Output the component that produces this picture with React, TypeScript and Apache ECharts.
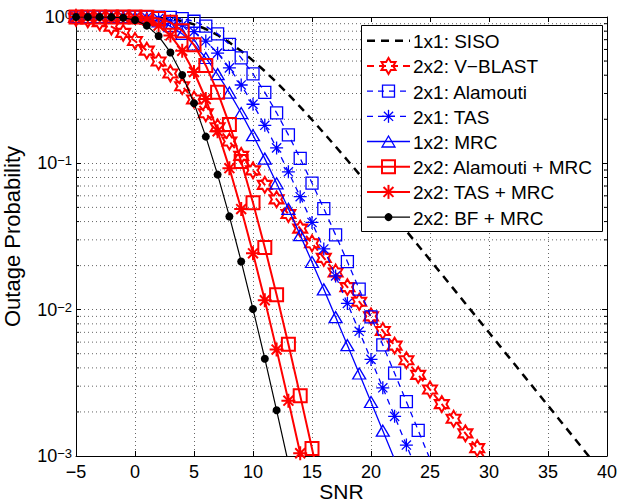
import React, { useEffect, useRef } from 'react';
import * as echarts from 'echarts';

// ---------------- data ----------------
const SNR = [-5, -4, -3, -2, -1, 0, 1, 2, 3, 4, 5, 6, 7, 8, 9, 10, 11, 12, 13, 14, 15, 16, 17, 18, 19, 20,
  21, 22, 23, 24, 25, 26, 27, 28, 29, 30, 31, 32, 33, 34, 35, 36, 37, 38, 39, 40];

const X_TICKS = [-5, 0, 5, 10, 15, 20, 25, 30, 35, 40];
const Y_TICKS = [0.001, 0.01, 0.1, 1];

const siso = [1, 1, 1, 0.99998, 0.99985, 0.99909, 0.99616, 0.98794, 0.97005, 0.93837, 0.89069, 0.82767,
  0.75258, 0.67024, 0.58573, 0.50341, 0.42653, 0.35702, 0.29588, 0.2432, 0.19858, 0.16124, 0.13036,
  0.10501, 0.084355, 0.067606, 0.054085, 0.043206, 0.034474, 0.027482, 0.021893, 0.017429, 0.01387,
  0.011033, 0.0087738, 0.0069756, 0.0055449, 0.004407, 0.003502, 0.0027828, 0.0022112, 0.0017568,
  0.0013957, 0.0011088, 0.00088086, 0.00069976];

const vblast = [0.98702, 0.96455, 0.92294, 0.86003, 0.77879, 0.68593, 0.58954, 0.49642, 0.41126, 0.33661,
  0.27295, 0.21989, 0.17629, 0.14093, 0.11242, 0.08955, 0.07127, 0.05667, 0.04505, 0.0358, 0.02845,
  0.022599, 0.017953, 0.014262, 0.011329, 0.009, 0.007149, 0.0056786, 0.0045106, 0.003583, 0.002846,
  0.0022607, 0.0017957, 0.0014264, 0.001133, 0.0009];

const alamouti21 = [1, 1, 1, 1, 1, 0.99999, 0.99982, 0.99857, 0.99281, 0.97505, 0.93519, 0.86586, 0.76778,
  0.64999, 0.52595, 0.40817, 0.30539, 0.22143, 0.15638, 0.10808, 0.07334, 0.04907, 0.03243, 0.02127,
  0.013822, 0.0089315, 0.0057441, 0.0036793, 0.0023494, 0.0014966, 0.0009511];

const tas21 = [1, 1, 1, 0.99997, 0.9997, 0.99818, 0.99233, 0.97603, 0.941, 0.88054, 0.79333, 0.68504,
  0.56638, 0.44922, 0.34308, 0.25342, 0.18193, 0.12746, 0.087545, 0.059146, 0.039434, 0.025998,
  0.016994, 0.011027, 0.0071158, 0.0045706, 0.0029252, 0.0018668, 0.0011885, 0.00075526];

const mrc12 = [1, 1, 0.99999, 0.99982, 0.99854, 0.9927, 0.97478, 0.93464, 0.86498, 0.76662, 0.64872,
  0.52466, 0.40701, 0.3044, 0.22065, 0.1558, 0.10767, 0.07303, 0.048874, 0.032317, 0.021168, 0.013765,
  0.008893, 0.005718, 0.003662, 0.002339, 0.0014898, 0.0009472];

const alamoutiMrc = [1, 1, 1, 1, 0.99997, 0.99953, 0.9955, 0.97618, 0.91912, 0.80661, 0.64547, 0.46697,
  0.30654, 0.18436, 0.10284, 0.05372, 0.02664, 0.012652, 0.005799, 0.0025849, 0.001126, 0.00048164];

const tasMrc = [1, 1, 0.99998, 0.99964, 0.99708, 0.98545, 0.95019, 0.87355, 0.74819, 0.58771, 0.42084,
  0.27527, 0.16566, 0.092659, 0.048686, 0.024274, 0.011593, 0.0053334, 0.0023887, 0.0010444, 0.00044808];

const bfMrc = [1, 1, 0.9998, 0.9981, 0.98816, 0.95351, 0.87344, 0.74066, 0.5724, 0.40191, 0.25771,
  0.15225, 0.083741, 0.043376, 0.021366, 0.0101, 0.004624, 0.0020529, 0.00089259];

// ---------------- styling ----------------
const RED = '#ff0000';
const BLUE = '#0000ff';
const BLACK = '#000000';
const FONT = '"Liberation Sans", Arial, Helvetica, sans-serif';

const HEX_PTS: number[][] = [[0, -1], [-0.2887, -0.5], [-0.866, -0.5], [-0.5774, 0], [-0.866, 0.5],
  [-0.2887, 0.5], [0, 1], [0.2887, 0.5], [0.866, 0.5], [0.5774, 0], [0.866, -0.5], [0.2887, -0.5]];
const HEX = 'path://M' + HEX_PTS.map((p) => p.join(',')).join('L') + 'Z';
const SQ = 'path://M-1,-1L1,-1L1,1L-1,1Z';
const AST = 'path://M0,-1L0,1M-1,0L1,0M-0.7071,-0.7071L0.7071,0.7071M-0.7071,0.7071L0.7071,-0.7071';
const TRI = 'path://M0,-1L1,1L-1,1Z';

type Spec = {
  name: string; values: number[]; color: string; width: number; dash: number[] | null;
  marker: 'none' | 'hex' | 'sq' | 'ast' | 'tri' | 'dot'; size: number[]; mw: number;
};

const SPECS: Spec[] = [
  { name: '1x1: SISO', values: siso, color: BLACK, width: 2.5, dash: [8, 6], marker: 'none', size: [0, 0], mw: 0 },
  { name: '2x2: V\u2212BLAST', values: vblast, color: RED, width: 2, dash: [7, 5], marker: 'hex', size: [14, 16], mw: 2 },
  { name: '2x1: Alamouti', values: alamouti21, color: BLUE, width: 1.3, dash: [6, 5], marker: 'sq', size: [12, 12], mw: 1.3 },
  { name: '2x1: TAS', values: tas21, color: BLUE, width: 1.3, dash: [6, 5], marker: 'ast', size: [13, 13], mw: 1.3 },
  { name: '1x2: MRC', values: mrc12, color: BLUE, width: 1.3, dash: null, marker: 'tri', size: [13, 11], mw: 1.3 },
  { name: '2x2: Alamouti + MRC', values: alamoutiMrc, color: RED, width: 2, dash: null, marker: 'sq', size: [13, 13], mw: 2 },
  { name: '2x2: TAS + MRC', values: tasMrc, color: RED, width: 2, dash: null, marker: 'ast', size: [14, 14], mw: 2 },
  { name: '2x2: BF + MRC', values: bfMrc, color: BLACK, width: 1.2, dash: null, marker: 'dot', size: [8, 8], mw: 0 },
];

const SYMBOL: Record<string, string> = { none: 'none', hex: HEX, sq: SQ, ast: AST, tri: TRI, dot: 'circle' };

const X_MIN = -5;
const X_MAX = 40;
const GRID_COLOR = '#666666';

function markerGraphic(s: Spec, cx: number, cy: number): any[] {
  const w = s.size[0] / 2;
  const h = s.size[1] / 2;
  const st = { stroke: s.color, lineWidth: s.mw, fill: 'none' };
  switch (s.marker) {
    case 'hex':
      return [{ type: 'polygon', shape: { points: HEX_PTS.map((p) => [cx + p[0] * w / 0.866, cy + p[1] * h]) }, style: st, z: 101 }];
    case 'sq':
      return [{ type: 'rect', shape: { x: cx - w, y: cy - h, width: 2 * w, height: 2 * h }, style: st, z: 101 }];
    case 'tri':
      return [{ type: 'polygon', shape: { points: [[cx, cy - h], [cx + w, cy + h], [cx - w, cy + h]] }, style: st, z: 101 }];
    case 'ast': {
      const segs = [[0, -1, 0, 1], [-1, 0, 1, 0], [-0.7071, -0.7071, 0.7071, 0.7071], [-0.7071, 0.7071, 0.7071, -0.7071]];
      return segs.map((g) => ({ type: 'line', shape: { x1: cx + g[0] * w, y1: cy + g[1] * h, x2: cx + g[2] * w, y2: cy + g[3] * h }, style: { stroke: s.color, lineWidth: s.mw }, z: 101 }));
    }
    case 'dot':
      return [{ type: 'circle', shape: { cx, cy, r: w }, style: { fill: s.color }, z: 101 }];
    default:
      return [];
  }
}

function buildLegend(): any[] {
  const box = { x: 361, y: 25, w: 241, h: 206 };
  const row0 = 40.7;
  const dy = 25.2;
  const els: any[] = [{
    type: 'rect', shape: { x: box.x + 0.5, y: box.y + 0.5, width: box.w, height: box.h },
    style: { fill: '#ffffff', stroke: '#000', lineWidth: 1 }, z: 100,
  }];
  SPECS.forEach((s, i) => {
    const cy = row0 + dy * i;
    els.push({
      type: 'line', shape: { x1: 367, y1: cy, x2: 410, y2: cy },
      style: { stroke: s.color, lineWidth: s.width, lineDash: s.dash || undefined }, z: 101,
    });
    els.push(...markerGraphic(s, 388.5, cy));
    els.push({
      type: 'text', x: 413, y: cy + 1,
      style: { text: s.name, font: `19px ${FONT}`, fill: '#000', align: 'left', verticalAlign: 'middle' }, z: 102,
    });
  });
  return els;
}

const minorVals: number[] = [];
[0.001, 0.01, 0.1].forEach((d) => { for (let m = 2; m <= 9; m++) minorVals.push(Number((m * d).toPrecision(3))); });

function fmtX(v: number) { return v < 0 ? '\u2212' + (-v) : String(v); }
function fmtY(v: number) {
  const e = Math.round(Math.log10(v));
  return `{b|10}{s|${e === 0 ? '0' : '\u2212' + (-e)}}`;
}

export default function App() {
  const ref = useRef<HTMLDivElement>(null);
  useEffect(() => {
    document.body.style.margin = '0';
    if (!ref.current) return;
    const chart = echarts.init(ref.current, undefined, { renderer: 'svg' });
    const lineSeries = SPECS.map((s, i) => ({
      type: 'line',
      name: s.name,
      data: s.values.map((v, k) => [SNR[k], v]),
      xAxisIndex: 0,
      yAxisIndex: 0,
      showSymbol: s.marker !== 'none',
      symbol: SYMBOL[s.marker],
      symbolSize: s.size,
      lineStyle: { color: s.color, width: s.width, type: s.dash || 'solid' },
      itemStyle: {
        color: s.marker === 'dot' ? s.color : 'none',
        borderColor: s.color,
        borderWidth: s.mw,
      },
      clip: true,
      silent: true,
      z: 3 + i,
    }));
    const option: any = {
      animation: false,
      backgroundColor: '#ffffff',
      grid: { left: 76, right: 11, top: 17, bottom: 48, containLabel: false, outerBoundsMode: 'none' },
      xAxis: [
        {
          type: 'value', min: X_MIN, max: X_MAX, interval: 5,
          name: 'SNR', nameLocation: 'middle', nameGap: 25, nameMoveOverlap: false,
          nameTextStyle: { fontSize: 21, fontFamily: FONT, color: '#000', verticalAlign: 'top', lineHeight: 21 },
          axisLine: { show: true, onZero: false, lineStyle: { color: '#000', width: 1 } },
          axisTick: { show: true, inside: true, length: 5, lineStyle: { color: '#000' } },
          axisLabel: { margin: 7, fontSize: 18, fontFamily: FONT, color: '#000', formatter: fmtX, customValues: X_TICKS },
          splitLine: { show: true, lineStyle: { color: GRID_COLOR, width: 1, type: [1, 3] } },
        },
        {
          type: 'value', position: 'top', min: X_MIN, max: X_MAX, interval: 5,
          axisLine: { show: true, onZero: false, lineStyle: { color: '#000', width: 1 } },
          axisTick: { show: true, inside: true, length: 5, lineStyle: { color: '#000' } },
          axisLabel: { show: false },
          splitLine: { show: false },
        },
      ],
      yAxis: [
        {
          type: 'log', logBase: 10, min: Y_TICKS[0], max: Y_TICKS[Y_TICKS.length - 1],
          name: 'Outage Probability', nameLocation: 'middle', nameGap: 53, nameMoveOverlap: false,
          nameTextStyle: { fontSize: 22, fontFamily: FONT, color: '#000' },
          axisLine: { show: true, onZero: false, lineStyle: { color: '#000', width: 1 } },
          axisTick: { show: true, inside: true, length: 5, lineStyle: { color: '#000' } },
          axisLabel: {
            margin: 4, formatter: fmtY,
            rich: {
              b: { fontSize: 18, fontFamily: FONT, color: '#000', lineHeight: 18, padding: [6, 0, 0, 0], verticalAlign: 'bottom' },
              s: { fontSize: 13, fontFamily: FONT, color: '#000', lineHeight: 13, verticalAlign: 'top' },
            },
          },
          splitLine: { show: true, lineStyle: { color: GRID_COLOR, width: 1, type: [1, 3] } },
        },
        {
          type: 'log', logBase: 10, position: 'right', min: Y_TICKS[0], max: Y_TICKS[Y_TICKS.length - 1],
          axisLine: { show: true, onZero: false, lineStyle: { color: '#000', width: 1 } },
          axisTick: { show: true, inside: true, length: 5, lineStyle: { color: '#000' } },
          axisLabel: { show: false },
          splitLine: { show: false },
        },
      ],
      series: [
        {
          type: 'custom',
          name: 'minor-grid',
          xAxisIndex: 0,
          yAxisIndex: 0,
          silent: true,
          z: 1,
          data: minorVals.map((v) => [X_MIN, v]),
          renderItem: (_p: any, api: any) => {
            const y = api.value(1);
            const a = api.coord([X_MIN, y]);
            const b = api.coord([X_MAX, y]);
            return {
              type: 'group',
              children: [
                { type: 'line', shape: { x1: a[0], y1: a[1], x2: b[0], y2: b[1] }, style: { stroke: GRID_COLOR, lineWidth: 1, lineDash: [1, 3] } },
                { type: 'line', shape: { x1: a[0], y1: a[1], x2: a[0] + 3, y2: a[1] }, style: { stroke: '#000', lineWidth: 1 } },
                { type: 'line', shape: { x1: b[0] - 3, y1: b[1], x2: b[0], y2: b[1] }, style: { stroke: '#000', lineWidth: 1 } },
              ],
            };
          },
        },
        ...lineSeries,
      ],
      graphic: { elements: buildLegend() },
    };
    chart.setOption(option);
    return () => chart.dispose();
  }, []);
  return <div ref={ref} style={{ width: 618, height: 504 }} />;
}
